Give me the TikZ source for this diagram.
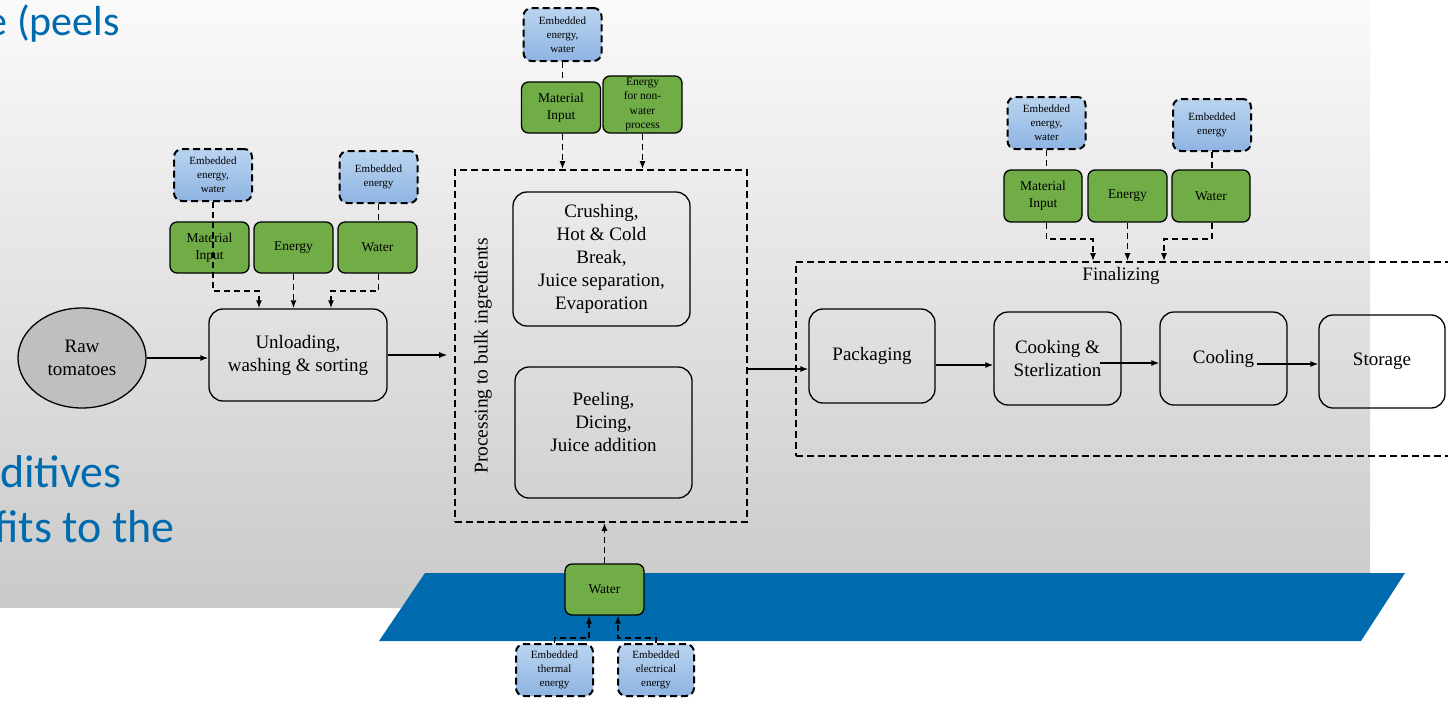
\documentclass[tikz,border=0pt]{standalone}
\usepackage{fontspec}
\setmainfont{Liberation Serif}
\newfontfamily\slidefont{Carlito}
\usetikzlibrary{arrows.meta,shapes.geometric}
\definecolor{slideblue}{RGB}{0,106,174}
\definecolor{inputgreen}{RGB}{112,173,71}
\definecolor{embtop}{RGB}{186,212,240}
\definecolor{embbot}{RGB}{142,180,226}

\begin{document}
\begin{tikzpicture}[x=1pt,y=-1pt,
  stepbox/.style={draw,line width=1.3pt,rounded corners=14pt,align=center,inner sep=0pt,
    font=\fontsize{19}{23}\selectfont},
  inbox/.style={draw,fill=inputgreen,line width=1.3pt,rounded corners=7pt,minimum width=79,
    minimum height=51,align=center,inner sep=0pt,font=\fontsize{13.5}{17}\selectfont},
  embbox/.style={draw,dash pattern=on 7pt off 4pt,line width=2pt,rounded corners=8pt,
    top color=embtop,bottom color=embbot,minimum width=78,minimum height=52,align=center,
    inner sep=0pt,font=\fontsize{11}{14}\selectfont},
  slidetext/.style={anchor=base east,inner sep=0pt,text=slideblue,
    font=\slidefont\fontsize{46}{55}\selectfont},
  feed/.style={dash pattern=on 6pt off 4pt,line width=1.6pt},
  feedarrow/.style={feed,-{Latex[length=8pt,width=6pt]}},
  flow/.style={line width=1.3pt,-{Latex[length=8pt,width=6pt]}}]
  \useasboundingbox (0,0) rectangle (1448,702);
  \clip (0,0) rectangle (1448,702);

  % slide background
  \shade[top color=black!2,bottom color=black!21] (0,0) rectangle (1370,607);
  \fill[slideblue] (379,641) -- (425,573) -- (1405,573) -- (1361,641) -- cycle;

  % slide text behind the figure
  \node[slidetext,font=\slidefont\fontsize{42}{50}\selectfont] (peels) at (120,35) {e (peels};
  \node[slidetext] (addit) at (122,487) {ditives};
  \node[slidetext] (bene) at (175,542) {fits to the};

  % first stage
  \node[ellipse,draw,fill=black!25,line width=1.3pt,minimum width=128,minimum height=100,
    align=center,inner sep=0pt,font=\fontsize{19}{23}\selectfont] (raw) at (82,358) {Raw\\tomatoes};
  \node[stepbox,minimum width=178,minimum height=92] (unload) at (298,355) {Unloading,\\washing \& sorting};

  \node[inbox] (matA) at (209.5,247.5) {Material\\Input};
  \node[inbox] (enA) at (293.5,247.5) {Energy};
  \node[inbox] (watA) at (377.5,247.5) {Water};
  \node[embbox] (embA) at (213,175) {Embedded\\energy,\\water};
  \node[embbox] (embB) at (378.5,177) {Embedded\\energy};

  \draw[feedarrow] (embA.south) -- (embA.south |- 0,291) -| ([xshift=-39pt]unload.north);
  \draw[feedarrow] (enA.south) -- (enA.south |- unload.north);
  \draw[feed] (embB.south) -- (embB.south |- watA.north);
  \draw[feedarrow] (embB.south |- watA.south) -- (embB.south |- 0,291) -| ([xshift=33pt]unload.north);

  % processing to bulk ingredients
  \node[draw,dash pattern=on 7pt off 4pt,line width=1.6pt,minimum width=292,minimum height=352] (proc) at (601,346) {};
  \node[stepbox,minimum width=177,minimum height=134] (crush) at (601.5,259)
    {Crushing,\\Hot \& Cold\\Break,\\Juice separation,\\Evaporation};
  \node[stepbox,minimum width=177,minimum height=131,text depth=21pt] (peel) at (603.5,432.5)
    {Peeling,\\Dicing,\\Juice addition};
  \node[rotate=90,font=\fontsize{19.5}{23}\selectfont] (bulk) at (483,356) {Processing to bulk ingredients};

  \node[embbox,minimum height=53] (embC) at (562.5,34.5) {Embedded\\energy,\\water};
  \node[inbox] (matB) at (561,107.5) {Material\\Input};
  \node[inbox,minimum height=57,font=\fontsize{11.5}{14.5}\selectfont] (enB) at (642.5,104.5)
    {Energy\\for non-\\water\\process};

  \draw[feed] (embC.south) -- (embC.south |- matB.north);
  \draw[feedarrow] (embC.south |- matB.south) -- (embC.south |- proc.north);
  \draw[feedarrow] (enB.south) -- (enB.south |- proc.north);

  \node[inbox] (watD) at (604.5,589.5) {Water};
  \node[embbox,minimum width=77] (embF) at (554.5,670) {Embedded\\thermal\\energy};
  \node[embbox,minimum width=76] (embG) at (656,670) {Embedded\\electrical\\energy};

  \draw[feedarrow] (watD.north) -- (watD.north |- proc.south);
  \draw[feedarrow] (embF.north) -- (embF.north |- 0,638) -| ([xshift=-15.5pt]watD.south);
  \draw[feedarrow] (embG.north) -- (embG.north |- 0,638) -| ([xshift=13.5pt]watD.south);

  % finalizing
  \node[draw,dash pattern=on 7pt off 4pt,line width=1.6pt,minimum width=704,minimum height=194] (fin) at (1148,359) {};
  \node[font=\fontsize{19}{23}\selectfont] (finlab) at (1121,276) {Finalizing};

  \node[stepbox,minimum width=126,minimum height=94] (pack) at (872,356) {Packaging};
  \node[stepbox,minimum width=127,minimum height=93] (cook) at (1057.5,358.5) {Cooking \&\\Sterlization};
  \node[stepbox,minimum width=127,minimum height=93] (cool) at (1223.5,358.5) {Cooling};
  \node[stepbox,minimum width=126,minimum height=93] (stor) at (1382,361.5) {Storage};

  \node[embbox] (embD) at (1046.5,123) {Embedded\\energy,\\water};
  \node[embbox] (embE) at (1212,125) {Embedded\\energy};
  \node[inbox,minimum width=78,minimum height=52] (matC) at (1043,196) {Material\\Input};
  \node[inbox,minimum height=52] (enC) at (1127.5,196) {Energy};
  \node[inbox,minimum width=78,minimum height=52] (watC) at (1211,196) {Water};

  \draw[feed] (embD.south) -- (embD.south |- matC.north);
  \draw[feedarrow] (embD.south |- matC.south) -- (embD.south |- 0,239) -| ([xshift=-55pt]fin.north);
  \draw[feedarrow] (enC.south) -- (enC.south |- fin.north);
  \draw[feed] (embE.south) -- (embE.south |- watC.north);
  \draw[feedarrow] (embE.south |- watC.south) -- (embE.south |- 0,239) -| ([xshift=16pt]fin.north);

  % main flow
  \draw[flow] (raw.east) -- (unload.west |- raw.east);
  \draw[flow,shorten >=7pt] (unload.east) -- (proc.west |- unload.east);
  \draw[flow] (proc.east |- 0,369) -- (pack.west |- 0,369);
  \draw[flow] (pack.east |- 0,365) -- (cook.west |- 0,365);
  \draw[flow] ([xshift=-22pt]cook.east |- 0,363) -- (cool.west |- 0,363);
  \draw[flow] ([xshift=-31pt]cool.east |- 0,364) -- (stor.west |- 0,364);
\end{tikzpicture}
\end{document}
